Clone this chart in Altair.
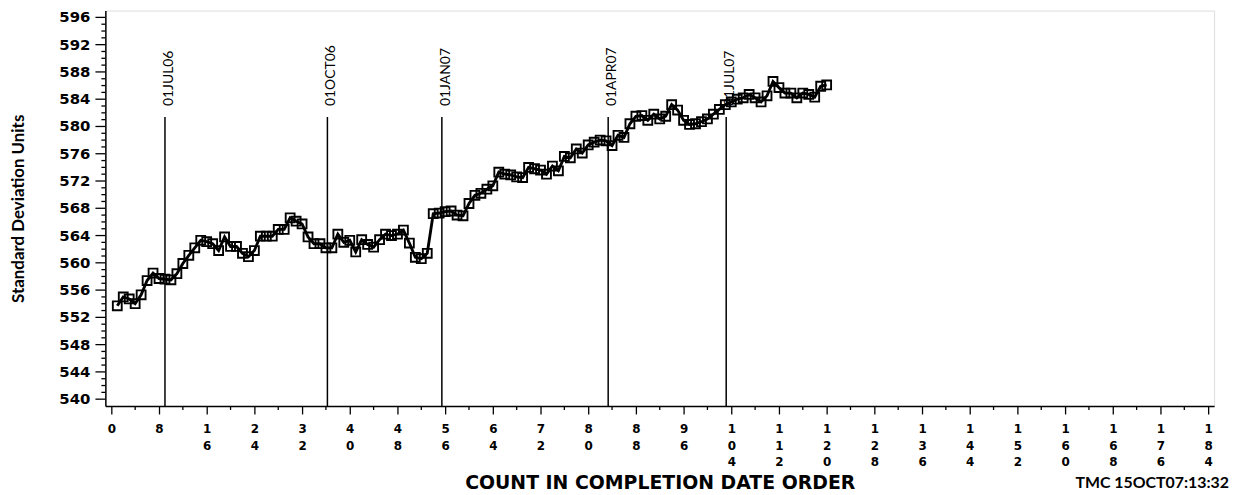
import altair as alt
import pandas as pd

# ---- data ----
counts = list(range(1, 121))
values = [
    553.7, 555.0, 554.7, 554.0, 555.3, 557.4, 558.5, 557.7, 557.6, 557.5,
    558.4, 559.9, 561.1, 562.2, 563.3, 563.1, 562.8, 561.8, 563.8, 562.4,
    562.4, 561.4, 560.9, 561.8, 563.9, 563.9, 563.9, 564.9, 564.9, 566.6,
    566.1, 565.7, 563.8, 562.8, 562.8, 562.2, 562.2, 564.2, 563.0, 563.3,
    561.6, 563.4, 562.7, 562.3, 563.4, 564.2, 564.0, 564.2, 564.8, 562.9,
    560.8, 560.6, 561.4, 567.2, 567.3, 567.5, 567.6, 567.0, 566.9, 568.7,
    569.9, 570.2, 570.8, 571.3, 573.3, 573.0, 572.9, 572.6, 572.5, 574.0,
    573.8, 573.6, 573.0, 574.2, 573.5, 575.6, 575.4, 576.7, 576.1, 577.3,
    577.7, 578.0, 577.9, 577.2, 578.7, 578.4, 580.4, 581.5, 581.6, 580.9,
    581.8, 581.1, 581.5, 583.2, 582.4, 580.9, 580.3, 580.4, 580.7, 581.1,
    581.8, 582.5, 583.2, 583.6, 584.0, 584.2, 584.7, 584.2, 583.6, 584.5,
    586.6, 585.7, 584.9, 584.9, 584.2, 584.9, 584.7, 584.3, 585.9, 586.1,
]

event_labels = ["01JUL06", "01OCT06", "01JAN07", "01APR07", "01JUL07"]
event_counts = [9.0, 36.25, 55.45, 83.35, 103.15]
event_top = [581.4] * 5
event_label_base = [583.0] * 5

x_major = list(range(0, 185, 8))
x_minor = list(range(4, 185, 8))
y_major = list(range(540, 597, 4))
y_minor = [v for v in range(540, 597) if v % 4 != 0]

y_title = "Standard Deviation Units"
x_title = "COUNT IN COMPLETION DATE ORDER"
footnote = "TMC  15OCT07:13:32"

# ---- tables ----
df = pd.DataFrame({"count": counts, "value": values})
ev = pd.DataFrame({"count": event_counts, "label": event_labels,
                   "top": event_top, "lab": event_label_base})
xm = pd.DataFrame({"v": x_minor})
ymaj = pd.DataFrame({"v": y_major, "txt": [str(v) for v in y_major]})
ymin = pd.DataFrame({"v": y_minor})
fn = pd.DataFrame({"t": [footnote]})

NARROW = "Lato, Roboto, Liberation Sans, sans-serif"
WIDE = "DejaVu Sans, Verdana, sans-serif"

W, H = 1116, 398

xscale = alt.Scale(domain=[-1, 185], nice=False, zero=False)
yscale = alt.Scale(domain=[539, 597], nice=False, zero=False)

xaxis = alt.Axis(
    values=x_major,
    labelExpr="split(datum.label, '')",
    tickSize=8, labelPadding=10,
    labelFont=WIDE, labelFontWeight="bold", labelFontSize=12,
    labelLineHeight=16.5, labelBaseline="top", labelAngle=0,
    labelOverlap=False, labelFlush=False,
    domainColor="black", domainWidth=1.5, tickColor="black", tickWidth=1.3,
    labelColor="black", grid=False,
    title=x_title, titleFont=WIDE, titleFontWeight="bold", titleFontSize=19,
    titleColor="black", titleX=W / 2, titleY=83, titleAlign="center",
    titleBaseline="alphabetic",
)

yaxis = alt.Axis(
    labels=False, ticks=False, grid=False,
    domainColor="black", domainWidth=1.5,
    title=y_title, titleFont=NARROW, titleFontWeight="bold", titleFontSize=17,
    titleColor="black", titleX=-87, titleY=H / 2, titleAngle=270,
    titleAlign="center", titleBaseline="middle",
)

base = alt.Chart(df)

line = base.mark_line(color="black", strokeWidth=2.9).encode(
    x=alt.X("count:Q", scale=xscale, axis=xaxis),
    y=alt.Y("value:Q", scale=yscale, axis=yaxis),
)

pts = base.mark_point(shape="square", filled=False, color="black",
                      size=80, strokeWidth=1.9, opacity=1).encode(
    x=alt.X("count:Q", scale=xscale),
    y=alt.Y("value:Q", scale=yscale),
)

rules = alt.Chart(ev).mark_rule(color="black", strokeWidth=1.5).encode(
    x=alt.X("count:Q", scale=xscale),
    y=alt.Y("top:Q", scale=yscale),
    y2=alt.Y2Datum(539),
)

labels = alt.Chart(ev).mark_text(
    angle=270, align="left", baseline="middle", dy=4,
    font=NARROW, fontSize=14, color="black",
).encode(
    x=alt.X("count:Q", scale=xscale),
    y=alt.Y("lab:Q", scale=yscale),
    text="label:N",
)

x_minor_ticks = alt.Chart(xm).mark_rule(color="black", strokeWidth=1.3).encode(
    x=alt.X("v:Q", scale=xscale),
    y=alt.value(H),
    y2=alt.value(H + 4),
)

y_major_ticks = alt.Chart(ymaj).mark_rule(color="black", strokeWidth=1.3).encode(
    y=alt.Y("v:Q", scale=yscale),
    x=alt.value(-10),
    x2=alt.value(0),
)

y_major_labels = alt.Chart(ymaj).mark_text(
    align="right", baseline="middle", font=WIDE, fontWeight="bold",
    fontSize=15, color="black",
).encode(
    y=alt.Y("v:Q", scale=yscale),
    x=alt.value(-15),
    text="txt:N",
)

y_minor_ticks = alt.Chart(ymin).mark_rule(color="black", strokeWidth=1.3).encode(
    y=alt.Y("v:Q", scale=yscale),
    x=alt.value(-4),
    x2=alt.value(0),
)

foot = alt.Chart(fn).mark_text(
    align="right", baseline="alphabetic", font=NARROW, fontWeight="bold",
    fontSize=16, color="black",
).encode(
    x=alt.value(1237 - 106),
    y=alt.value(490 - 9),
    text="t:N",
)

chart = alt.layer(
    line, pts, rules, labels, x_minor_ticks,
    y_major_ticks, y_minor_ticks, y_major_labels, foot
).properties(
    width=W, height=H,
    autosize=alt.AutoSizeParams(type="none"),
    padding={"left": 98, "top": 1, "right": 17, "bottom": 88},
).configure_view(stroke=None).configure(background="white")

chart.save("out.html", embed_options={"renderer": "svg", "actions": False})
